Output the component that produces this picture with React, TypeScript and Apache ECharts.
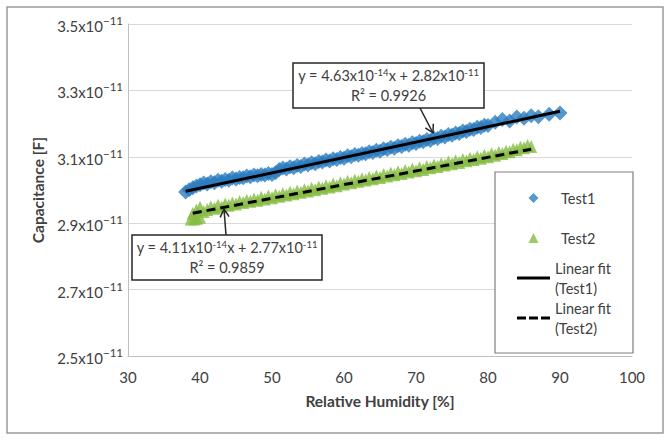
import React, { useEffect, useRef } from "react";
import * as echarts from "echarts";

// Relative humidity [%] and capacitance (in units of 1e-11 F)
const test1Rh = [38, 38.5, 39, 39.5, 40, 40.5, 41, 41.5, 42, 42.5, 43, 43.5, 44, 44.5, 45, 45.5, 46, 46.5, 47, 47.5, 48, 48.5, 49, 49.5, 50, 50.5, 51, 51.5, 52, 52.5, 53, 53.5, 54, 54.5, 55, 55.5, 56, 56.5, 57, 57.5, 58, 58.5, 59, 59.5, 60, 60.5, 61, 61.5, 62, 62.5, 63, 63.5, 64, 64.5, 65, 65.5, 66, 66.5, 67, 67.5, 68, 68.5, 69, 69.5, 70, 70.5, 71, 71.5, 72, 72.5, 73, 73.5, 74, 74.5, 75, 75.5, 76, 76.5, 77, 77.5, 78, 78.5, 79, 79.5, 80, 81, 82, 83, 84, 85, 86, 87, 88.5, 90];
const test1Cap = [2.994, 3.001, 3.007, 3.012, 3.016, 3.021, 3.018, 3.025, 3.022, 3.029, 3.026, 3.032, 3.029, 3.036, 3.033, 3.038, 3.037, 3.042, 3.040, 3.045, 3.043, 3.047, 3.045, 3.050, 3.047, 3.052, 3.062, 3.066, 3.063, 3.070, 3.067, 3.074, 3.071, 3.078, 3.075, 3.082, 3.079, 3.086, 3.084, 3.090, 3.087, 3.094, 3.092, 3.098, 3.096, 3.103, 3.100, 3.107, 3.105, 3.110, 3.109, 3.115, 3.113, 3.120, 3.117, 3.124, 3.122, 3.129, 3.126, 3.133, 3.131, 3.138, 3.135, 3.142, 3.140, 3.147, 3.145, 3.152, 3.149, 3.157, 3.155, 3.162, 3.160, 3.167, 3.165, 3.172, 3.170, 3.178, 3.176, 3.183, 3.182, 3.189, 3.188, 3.195, 3.194, 3.204, 3.212, 3.208, 3.220, 3.216, 3.224, 3.221, 3.228, 3.232];

const test2Rh = [38.7, 39.2, 39.6, 40, 39, 39.5, 40, 40.5, 41, 41.5, 42, 42.5, 43, 43.5, 44, 44.5, 45, 45.5, 46, 46.5, 47, 47.5, 48, 48.5, 49, 49.5, 50, 50.5, 51, 51.5, 52, 52.5, 53, 53.5, 54, 54.5, 55, 55.5, 56, 56.5, 57, 57.5, 58, 58.5, 59, 59.5, 60, 60.5, 61, 61.5, 62, 62.5, 63, 63.5, 64, 64.5, 65, 65.5, 66, 66.5, 67, 67.5, 68, 68.5, 69, 69.5, 70, 70.5, 71, 71.5, 72, 72.5, 73, 73.5, 74, 74.5, 75, 75.5, 76, 76.5, 77, 77.5, 78, 78.5, 79, 79.5, 80, 80.5, 81, 81.5, 82, 82.5, 83, 83.5, 84, 84.5, 85, 85.5, 86];
const test2Cap = [2.913, 2.913, 2.915, 2.918, 2.930, 2.940, 2.948, 2.935, 2.941, 2.949, 2.945, 2.954, 2.949, 2.958, 2.954, 2.961, 2.958, 2.965, 2.962, 2.969, 2.966, 2.973, 2.969, 2.978, 2.973, 2.982, 2.977, 2.986, 2.981, 2.989, 2.985, 2.993, 2.989, 2.997, 2.993, 3.001, 2.997, 3.005, 3.001, 3.009, 3.005, 3.013, 3.009, 3.018, 3.013, 3.022, 3.018, 3.026, 3.022, 3.030, 3.026, 3.034, 3.030, 3.038, 3.034, 3.042, 3.038, 3.047, 3.042, 3.051, 3.046, 3.055, 3.050, 3.059, 3.054, 3.063, 3.058, 3.067, 3.062, 3.071, 3.067, 3.075, 3.071, 3.079, 3.075, 3.084, 3.079, 3.088, 3.083, 3.092, 3.088, 3.096, 3.092, 3.100, 3.096, 3.105, 3.100, 3.109, 3.105, 3.113, 3.110, 3.117, 3.115, 3.123, 3.121, 3.129, 3.127, 3.134, 3.131];

// Linear fit end points (from y = 4.63e-14 x + 2.82e-11 and y = 4.11e-14 x + 2.77e-11)
const fit1Rh = [38, 90];
const fit1Cap = [2.996, 3.237];
const fit2Rh = [39, 86];
const fit2Cap = [2.930, 3.123];

const seriesNames = ["Test1", "Test2", "Linear fit\n(Test1)", "Linear fit\n(Test2)"];
const eq1 = { slope: "4.63", slopeExp: "-14", icpt: "2.82", icptExp: "-11", r2: "0.9926" };
const eq2 = { slope: "4.11", slopeExp: "-14", icpt: "2.77", icptExp: "-11", r2: "0.9859" };
const xTitle = "Relative Humidity [%]";
const yTitle = "Capacitance [F]";

const FONT = "Lato, 'Open Sans', sans-serif";
const BLUE = "#2C7DC0";
const GREEN = "#86BC42";
const TXT = "#404040";

const pairs = (xs: number[], ys: number[]) => xs.map((x, i) => [x, ys[i]]);

const eqText = (e: typeof eq1) =>
  `{t|y = ${e.slope}x10}{s|${e.slopeExp}}{t|x + ${e.icpt}x10}{s|${e.icptExp}}\n{t|R² = ${e.r2}}`;

const eqRich = {
  t: { fontSize: 14.5, fontFamily: FONT, color: TXT, lineHeight: 20, verticalAlign: "middle" },
  s: { fontSize: 9.5, fontFamily: FONT, color: TXT, lineHeight: 20, verticalAlign: "top", padding: [2, 0, 0, 0] },
};

function arrowHead(x0: number, y0: number, x1: number, y1: number) {
  const dx = x1 - x0, dy = y1 - y0;
  const L = Math.hypot(dx, dy);
  const ux = dx / L, uy = dy / L;
  const px = -uy, py = ux;
  const bx = x1 - 8 * ux, by = y1 - 8 * uy;
  return [[bx + 4.5 * px, by + 4.5 * py], [x1, y1], [bx - 4.5 * px, by - 4.5 * py]];
}

export default function App() {
  const ref = useRef<HTMLDivElement>(null);
  useEffect(() => {
    if (!ref.current) return;
    const chart = echarts.init(ref.current, null, { renderer: "svg" });
    const a1 = [420, 108, 433, 133];
    const a2 = [226, 235, 224, 209];
    chart.setOption({
      animation: false,
      backgroundColor: "#ffffff",
      textStyle: { fontFamily: FONT },
      grid: { left: 128, right: 36, top: 24, bottom: 89 },
      xAxis: {
        type: "value",
        min: 30,
        max: 100,
        interval: 10,
        name: xTitle,
        nameLocation: "middle",
        nameGap: 37,
        nameTextStyle: { fontFamily: FONT, fontSize: 15.5, fontWeight: "bold", color: TXT },
        axisLine: { show: true, lineStyle: { color: "#bfbfbf", width: 1 } },
        axisTick: { show: false },
        splitLine: { show: false },
        axisLabel: { fontFamily: FONT, fontSize: 15, color: TXT, margin: 13 },
      },
      yAxis: {
        type: "value",
        min: 2.5,
        max: 3.5,
        interval: 0.2,
        name: yTitle,
        nameLocation: "middle",
        nameGap: 82,
        nameTextStyle: { fontFamily: FONT, fontSize: 15.5, fontWeight: "bold", color: TXT },
        axisLine: { show: true, lineStyle: { color: "#bfbfbf", width: 1 } },
        axisTick: { show: false },
        splitLine: { show: true, lineStyle: { color: "#d9d9d9", width: 1 } },
        axisLabel: {
          margin: 5,
          formatter: (v: number) => `{b|${v.toFixed(1)}x10}{s|−11}`,
          rich: {
            b: { fontFamily: FONT, fontSize: 15, color: TXT, lineHeight: 19, verticalAlign: "bottom" },
            s: { fontFamily: FONT, fontSize: 11.5, color: TXT, lineHeight: 19, verticalAlign: "top" },
          },
        },
      },
      legend: {
        orient: "vertical",
        left: 517,
        top: 178,
        itemWidth: 33,
        itemHeight: 10,
        itemGap: 0,
        padding: 0,
        symbolKeepAspect: true,
        textStyle: { fontFamily: FONT, fontSize: 14.5, color: TXT },
        data: [
          { name: seriesNames[0], icon: "path://M5,0L10,5L5,10L0,5Z", textStyle: { lineHeight: 40, padding: [0, 0, 0, 6] } },
          { name: seriesNames[1], icon: "path://M5,0L10,10L0,10Z", textStyle: { lineHeight: 40, padding: [0, 0, 0, 6] } },
          { name: seriesNames[2], icon: "path://M0,0h33v3h-33z", textStyle: { lineHeight: 20 } },
          { name: seriesNames[3], icon: "path://M0,0h9v3h-9zM12,0h9v3h-9zM24,0h9v3h-9z", textStyle: { lineHeight: 20 } },
        ],
      },
      graphic: [
        {
          type: "rect",
          z: 0,
          shape: { x: 7, y: 7, width: 656, height: 426 },
          style: { fill: "none", stroke: "#9a9a9a", lineWidth: 1.5 },
          silent: true,
        },
        {
          type: "rect",
          z: 3,
          shape: { x: 495, y: 172, width: 138, height: 181 },
          style: { fill: "#ffffff", stroke: "#7f7f7f", lineWidth: 1.2 },
          silent: true,
        },
        {
          type: "rect",
          z: 3,
          shape: { x: 293, y: 63, width: 191, height: 45 },
          style: { fill: "#ffffff", stroke: "#262626", lineWidth: 1.5 },
          silent: true,
        },
        {
          type: "text",
          z: 4,
          x: 388.5,
          y: 85.5,
          style: { text: eqText(eq1), rich: eqRich, align: "center", verticalAlign: "middle", fill: TXT, font: `14px ${FONT}` },
          silent: true,
        },
        {
          type: "rect",
          z: 3,
          shape: { x: 132, y: 235, width: 190, height: 45 },
          style: { fill: "#ffffff", stroke: "#262626", lineWidth: 1.5 },
          silent: true,
        },
        {
          type: "text",
          z: 4,
          x: 227,
          y: 257.5,
          style: { text: eqText(eq2), rich: eqRich, align: "center", verticalAlign: "middle", fill: TXT, font: `14px ${FONT}` },
          silent: true,
        },
        {
          type: "line",
          z: 4,
          shape: { x1: a1[0], y1: a1[1], x2: a1[2], y2: a1[3] },
          style: { stroke: "#262626", lineWidth: 1.5 },
          silent: true,
        },
        {
          type: "polyline",
          z: 4,
          shape: { points: arrowHead(a1[0], a1[1], a1[2], a1[3]) },
          style: { stroke: "#262626", lineWidth: 1.5, fill: "none" },
          silent: true,
        },
        {
          type: "line",
          z: 4,
          shape: { x1: a2[0], y1: a2[1], x2: a2[2], y2: a2[3] },
          style: { stroke: "#262626", lineWidth: 1.5 },
          silent: true,
        },
        {
          type: "polyline",
          z: 4,
          shape: { points: arrowHead(a2[0], a2[1], a2[2], a2[3]) },
          style: { stroke: "#262626", lineWidth: 1.5, fill: "none" },
          silent: true,
        },
      ],
      series: [
        {
          name: seriesNames[0],
          type: "scatter",
          symbol: "diamond",
          symbolSize: 15,
          itemStyle: { color: BLUE },
          data: pairs(test1Rh, test1Cap),
          z: 2,
        },
        {
          name: seriesNames[1],
          type: "scatter",
          symbol: "triangle",
          symbolSize: [12, 13],
          itemStyle: { color: GREEN },
          data: pairs(test2Rh, test2Cap),
          z: 2,
        },
        {
          name: seriesNames[2],
          type: "line",
          showSymbol: false,
          symbol: "none",
          lineStyle: { color: "#000000", width: 3 },
          itemStyle: { color: "#000000" },
          data: pairs(fit1Rh, fit1Cap),
          z: 3,
        },
        {
          name: seriesNames[3],
          type: "line",
          showSymbol: false,
          symbol: "none",
          lineStyle: { color: "#000000", width: 3, type: [9, 5] },
          itemStyle: { color: "#000000" },
          data: pairs(fit2Rh, fit2Cap),
          z: 3,
        },
      ],
    });
    return () => chart.dispose();
  }, []);
  return <div ref={ref} style={{ position: "fixed", left: 0, top: 0, width: 668, height: 445 }} />;
}
